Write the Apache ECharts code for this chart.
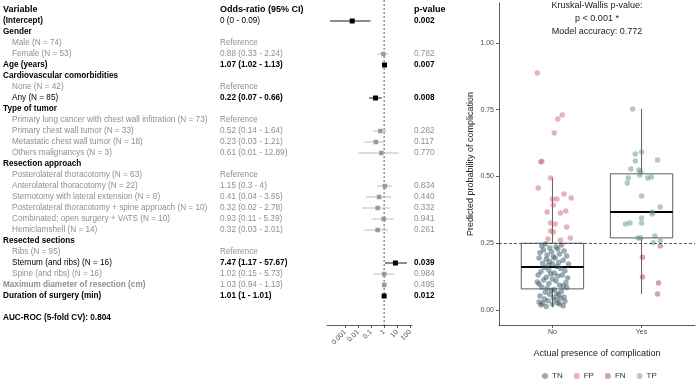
<!DOCTYPE html>
<html><head><meta charset="utf-8">
<script src="https://cdn.jsdelivr.net/npm/echarts@6/dist/echarts.min.js"></script>
<style>html,body{margin:0;padding:0;background:#fff}#c{width:698px;height:382px}</style>
</head><body><div id="c"></div>
<script>
// ---------- Forest table data ----------
var rowLabels = ['Variable','(Intercept)','Gender','Male (N = 74)','Female (N = 53)','Age (years)',
  'Cardiovascular comorbidities','None (N = 42)','Any (N = 85)','Type of tumor',
  'Primary lung cancer with chest wall infitration (N = 73)','Primary chest wall tumor (N = 33)',
  'Metastatic chest wall tumor (N = 18)','Others malignancys (N = 3)','Resection approach',
  'Posterolateral thoracotomy (N = 63)','Anterolateral thoracotomy (N = 22)',
  'Sternotomy with lateral extension (N = 8)','Posterolateral thoracotomy + spine approach (N = 10)',
  'Combinated: open surgery + VATS (N = 10)','Hemiclamshell (N = 14)','Resected sections',
  'Ribs (N = 95)','Sternum (and ribs) (N = 16)','Spine (and ribs) (N = 16)',
  'Maximum diameter of resection (cm)','Duration of surgery (min)','','AUC-ROC (5-fold CV): 0.804'];
var rowLevel = [0,0,0,1,1,0,0,1,1,0,1,1,1,1,0,1,1,1,1,1,1,0,1,1,1,0,0,0,0];
var orText = ['Odds-ratio (95% CI)','0 (0 - 0.09)','','Reference','0.88 (0.33 - 2.24)','1.07 (1.02 - 1.13)',
  '','Reference','0.22 (0.07 - 0.66)','','Reference','0.52 (0.14 - 1.64)','0.23 (0.03 - 1.21)',
  '0.61 (0.01 - 12.89)','','Reference','1.15 (0.3 - 4)','0.41 (0.04 - 3.65)','0.32 (0.02 - 2.78)',
  '0.93 (0.11 - 5.39)','0.32 (0.03 - 2.01)','','Reference','7.47 (1.17 - 57.67)','1.02 (0.15 - 5.73)',
  '1.03 (0.94 - 1.13)','1.01 (1 - 1.01)','',''];
var pValues = [null,0.002,null,null,0.782,0.007,null,null,0.008,null,null,0.282,0.117,0.770,null,null,
  0.834,0.440,0.332,0.941,0.261,null,null,0.039,0.984,0.495,0.012,null,null];
// plotted odds ratios (estimate, lower, upper)
var orEst = [null,0.0035,null,null,0.88,1.07,null,null,0.22,null,null,0.52,0.23,0.61,null,null,1.15,0.41,0.32,0.93,0.32,null,null,7.47,1.02,1.03,1.01,null,null];
var orLo  = [null,0.00007,null,null,0.33,1.02,null,null,0.07,null,null,0.14,0.03,0.01,null,null,0.3,0.04,0.02,0.11,0.03,null,null,1.17,0.15,0.94,1.0,null,null];
var orHi  = [null,0.09,null,null,2.24,1.13,null,null,0.66,null,null,1.64,1.21,12.89,null,null,4,3.65,2.78,5.39,2.01,null,null,57.67,5.73,1.13,1.01,null,null];
var orTicks = [0.001,0.01,0.1,1,10,100];
var orNull = 1;
var headerP = 'p-value';

// ---------- Right panel data ----------
var groups = ['No','Yes'];
var boxNo  = [0.01, 0.079, 0.161, 0.25, 0.494];
var boxYes = [0.06, 0.27, 0.367, 0.51, 0.753];
var threshold = 0.25;
var yTicks = [0, 0.25, 0.5, 0.75, 1];
var tnPts = [[0.92,0.247],[1.10,0.243],[0.88,0.240],[1.04,0.236],[0.97,0.232],[1.06,0.228],[0.90,0.225],[1.13,0.221],[0.99,0.217],[0.86,0.214],[1.08,0.210],[0.94,0.206],[1.16,0.202],[1.01,0.199],[0.85,0.195],[1.03,0.195],[0.93,0.190],[1.12,0.186],[0.97,0.182],[1.07,0.178],[0.89,0.175],[1.00,0.172],[1.18,0.172],[0.95,0.168],[1.05,0.163],
  [0.91,0.158],[1.09,0.155],[0.96,0.150],[1.14,0.147],[0.87,0.143],[1.02,0.139],[0.98,0.135],[0.84,0.131],[1.11,0.131],[1.06,0.127],[0.93,0.123],[1.17,0.120],[1.00,0.116],[0.90,0.112],[1.04,0.109],[0.83,0.105],[1.15,0.102],[0.96,0.099],[0.85,0.097],[1.08,0.093],[1.12,0.090],[0.88,0.086],[1.16,0.084],[0.94,0.081],
  [1.02,0.077],[0.99,0.074],[1.10,0.070],[0.92,0.066],[1.05,0.062],[0.97,0.059],[1.07,0.056],[0.86,0.052],[1.13,0.049],[1.01,0.047],[1.09,0.044],[0.91,0.041],[1.04,0.038],[0.95,0.035],[1.14,0.033],[0.85,0.030],[1.06,0.027],[0.89,0.025],[1.00,0.022],[1.08,0.022],[0.87,0.019],[1.12,0.016],[0.93,0.013]];
var fpPts = [[0.83,0.888],[1.06,0.715],[1.11,0.730],[1.02,0.663],[0.87,0.554],[0.88,0.557],[0.98,0.494],[0.84,0.457],[1.00,0.416],[1.05,0.416],[1.13,0.434],[1.21,0.419],[1.01,0.393],[0.94,0.367],[1.09,0.363],[1.15,0.371],[0.98,0.326],[1.03,0.322],[1.16,0.311],[0.98,0.296],[1.01,0.292],[0.95,0.266],[1.09,0.262],[1.20,0.270]];
var fnPts = [[2.21,0.240],[2.01,0.198],[2.01,0.124],[2.19,0.101],[2.18,0.060]];
var tpPts = [[1.90,0.753],[2.00,0.592],[1.93,0.584],[1.93,0.558],[2.18,0.562],[1.88,0.528],[1.97,0.524],[1.99,0.517],[1.98,0.506],[1.85,0.494],[1.84,0.476],[2.07,0.494],[2.11,0.498],[2.00,0.427],[2.21,0.386],[2.12,0.367],[2.12,0.360],[2.00,0.345],[1.82,0.322],[1.87,0.326],[2.00,0.326],[1.96,0.270],[1.99,0.270],[2.15,0.277],[2.21,0.258],[2.13,0.252]];
var annotLines = ['Kruskal-Wallis p-value:', 'p < 0.001 *', 'Model accuracy: 0.772'];

// ---------- build ----------
var FONT = '"Liberation Sans", Arial, sans-serif';
var BLACK = '#000000', GREY = '#8f8f8f';
var textItems = [];
rowLabels.forEach(function(lab, r){
  var p = pValues[r];
  var sig = (p !== null && p < 0.05);
  if (r === 0) {
    textItems.push({row:r, x:3, text:lab, color:BLACK, font:'bold 9px ' + FONT});
    textItems.push({row:r, x:220, text:orText[r], color:BLACK, font:'bold 9px ' + FONT});
    textItems.push({row:r, x:414, text:headerP, color:BLACK, font:'bold 9px ' + FONT});
    return;
  }
  if (!lab) return;
  var lev = rowLevel[r];
  var col, weight;
  if (lev === 0) { weight = 'bold'; col = (p !== null && !sig) ? GREY : BLACK; }
  else { weight = 'normal'; col = sig ? BLACK : GREY; }
  textItems.push({row:r, x: lev === 0 ? 3 : 12, text:lab, color:col, font: weight + ' 8.2px ' + FONT});
  if (orText[r]) {
    textItems.push({row:r, x:220, text:orText[r], color: sig ? BLACK : GREY,
      font: ((sig && r !== 1) ? 'bold' : 'normal') + ' 8.2px ' + FONT});
  }
  if (p !== null) {
    textItems.push({row:r, x:414, text:p.toFixed(3), color: sig ? BLACK : GREY,
      font: (sig ? 'bold' : 'normal') + ' 8.2px ' + FONT});
  }
});

var forestData = [];
for (var r = 0; r < rowLabels.length; r++) {
  if (orEst[r] !== null) {
    var p = pValues[r];
    forestData.push([r, orEst[r], orLo[r], orHi[r], (p !== null && p < 0.05) ? 1 : 0]);
  }
}

var chart = echarts.init(document.getElementById('c'), null, {renderer:'canvas'});
var rowMin = -0.909, rowMax = 28.636;
var option = {
  animation: false,
  backgroundColor: '#ffffff',
  textStyle: {fontFamily: FONT},
  grid: [
    {left: 327, top: 0, width: 85, height: 325, containLabel: false},
    {left: 499, top: 3, width: 196, height: 322, containLabel: false}
  ],
  xAxis: [
    {type:'log', gridIndex:0, logBase:10, min:0.00004, max:141, position:'bottom',
      axisLine:{show:true, onZero:false, lineStyle:{color:'#333', width:0.8}},
      axisTick:{show:true, length:3, customValues: orTicks, lineStyle:{color:'#333', width:0.8}},
      axisLabel:{show:true, rotate:45, fontSize:7, color:'#4d4d4d', margin:6, customValues: orTicks,
        formatter:function(v){ return String(+(+v).toPrecision(3)); }},
      splitLine:{show:false}},
    {type:'value', gridIndex:1, min:0.4, max:2.6, position:'bottom',
      axisLine:{show:true, onZero:false, lineStyle:{color:'#333', width:0.8}},
      axisTick:{show:true, length:3, customValues:[1,2], lineStyle:{color:'#333', width:0.8}},
      axisLabel:{show:true, fontSize:7, color:'#4d4d4d', margin:4, customValues:[1,2],
        formatter:function(v){ return groups[Math.round(v)-1]; }},
      splitLine:{show:false},
      name:'Actual presence of complication', nameLocation:'middle', nameGap:24,
      nameTextStyle:{fontSize:9, color:'#1a1a1a'}}
  ],
  yAxis: [
    {type:'value', gridIndex:0, inverse:true, min:rowMin, max:rowMax, show:false},
    {type:'value', gridIndex:1, min:-0.0562, max:1.1498,
      axisLine:{show:true, onZero:false, lineStyle:{color:'#333', width:0.8}},
      axisTick:{show:true, length:3, customValues:yTicks, lineStyle:{color:'#333', width:0.8}},
      axisLabel:{show:true, fontSize:7, color:'#4d4d4d', margin:5, customValues:yTicks,
        formatter:function(v){ return (+v).toFixed(2); }},
      splitLine:{show:false},
      name:'Predicted probability of complication', nameLocation:'middle', nameGap:24, nameRotate:90,
      nameTextStyle:{fontSize:9, color:'#1a1a1a'}}
  ],
  legend: {
    data:['TN','FP','FN','TP'], left:542, top:372, orient:'horizontal',
    itemWidth:6, itemHeight:6, itemGap:11, icon:'circle', padding:0,
    textStyle:{fontSize:8, color:'#333', padding:[0,0,0,-1]}
  },
  graphic: annotLines.map(function(t, i){
    return {type:'text', x:597, y:6 + i*13, silent:true,
      style:{text:t, x:0, y:0, align:'center', verticalAlign:'middle', fill:'#1a1a1a', font:'9px ' + FONT}};
  }),
  series: [
    {type:'line', name:'nullLine', xAxisIndex:0, yAxisIndex:0, silent:true, symbol:'none',
      data:[[orNull, rowMin], [orNull, rowMax]],
      lineStyle:{type:[2,2], color:'#333', width:0.8}, z:1},
    {type:'custom', name:'table', xAxisIndex:0, yAxisIndex:0, silent:true,
      data: textItems.map(function(t){ return [1, t.row]; }),
      encode:{x:0, y:1},
      renderItem:function(params, api){
        var t = textItems[params.dataIndex];
        var y = api.coord([1, t.row])[1];
        return {type:'text', x:t.x, y:y, style:{text:t.text, fill:t.color, font:t.font,
          align:'left', verticalAlign:'middle', textAlign:'left', textVerticalAlign:'middle'}};
      }},
    {type:'custom', name:'forest', xAxisIndex:0, yAxisIndex:0, silent:true, clip:false, z:3,
      data: forestData, encode:{x:[1,2,3], y:0},
      renderItem:function(params, api){
        var row = api.value(0), sig = api.value(4);
        var pE = api.coord([api.value(1), row]);
        var pL = api.coord([api.value(2), row]);
        var pH = api.coord([api.value(3), row]);
        var lc = sig ? '#000' : '#b3b3b3';
        var fc = sig ? '#000' : '#9a9a9a';
        var s = sig ? 5 : 4.5;
        return {type:'group', children:[
          {type:'line', shape:{x1:pL[0], y1:pE[1], x2:pH[0], y2:pE[1]}, style:{stroke:lc, lineWidth:0.9}},
          {type:'rect', shape:{x:pE[0]-s/2, y:pE[1]-s/2, width:s, height:s}, style:{fill:fc}}
        ]};
      }
    },
    {type:'custom', name:'box', xAxisIndex:1, yAxisIndex:1, silent:true,
      data:[[1].concat(boxNo), [2].concat(boxYes)],
      encode:{x:0, y:[1,2,3,4,5]},
      renderItem:function(params, api){
        var xc = api.value(0);
        var pMin = api.coord([xc, api.value(1)]);
        var pQ1 = api.coord([xc, api.value(2)]);
        var pMed = api.coord([xc, api.value(3)]);
        var pQ3 = api.coord([xc, api.value(4)]);
        var pMax = api.coord([xc, api.value(5)]);
        var w = api.size([0.7, 0])[0];
        var x0 = pMed[0] - w/2;
        return {type:'group', children:[
          {type:'line', shape:{x1:pMed[0], y1:pMax[1], x2:pMed[0], y2:pQ3[1]}, style:{stroke:'#333', lineWidth:0.8}},
          {type:'line', shape:{x1:pMed[0], y1:pQ1[1], x2:pMed[0], y2:pMin[1]}, style:{stroke:'#333', lineWidth:0.8}},
          {type:'rect', shape:{x:x0, y:pQ3[1], width:w, height:pQ1[1]-pQ3[1]}, style:{fill:'#fff', stroke:'#333', lineWidth:0.8}},
          {type:'line', shape:{x1:x0, y1:pMed[1], x2:x0+w, y2:pMed[1]}, style:{stroke:'#000', lineWidth:2}}
        ]};
      },
      markLine:{silent:true, symbol:'none', label:{show:false}, z:10,
        lineStyle:{type:[3,2], color:'#333', width:0.8},
        data:[{yAxis:threshold}]}
    },
    {type:'scatter', name:'TN', xAxisIndex:1, yAxisIndex:1, data:tnPts, symbolSize:5.5, z:5,
      itemStyle:{color:'rgba(47,79,95,0.6)'}},
    {type:'scatter', name:'FP', xAxisIndex:1, yAxisIndex:1, data:fpPts, symbolSize:5.5, z:5,
      itemStyle:{color:'rgba(200,80,100,0.55)'}},
    {type:'scatter', name:'FN', xAxisIndex:1, yAxisIndex:1, data:fnPts, symbolSize:5.5, z:5,
      itemStyle:{color:'rgba(160,60,85,0.6)'}},
    {type:'scatter', name:'TP', xAxisIndex:1, yAxisIndex:1, data:tpPts, symbolSize:5.5, z:5,
      itemStyle:{color:'rgba(90,145,132,0.6)'}}
  ]
};
chart.setOption(option);
</script></body></html>
